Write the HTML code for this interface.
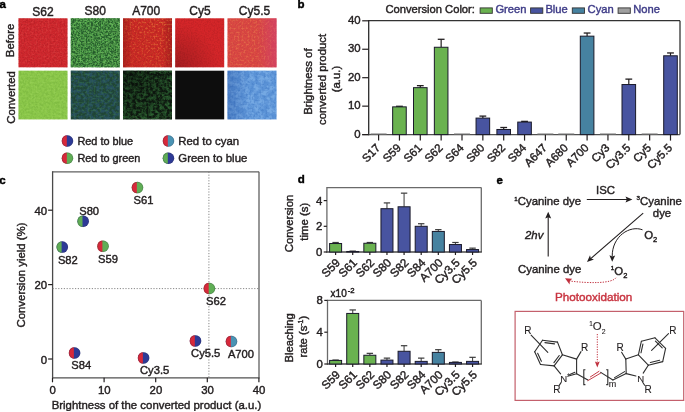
<!DOCTYPE html>
<html><head><meta charset="utf-8"><style>
html,body{margin:0;padding:0;background:#fff;}
body{width:685px;height:412px;overflow:hidden;}
svg{display:block;font-family:"Liberation Sans", sans-serif;filter:blur(0.3px);}
text{stroke:#231f20;stroke-width:0.42px;}
</style></head><body>
<svg width="685" height="412" viewBox="0 0 685 412" fill="#231f20">
<defs><filter id="fa" x="0" y="0" width="1" height="1"><feTurbulence type="fractalNoise" baseFrequency="0.22" numOctaves="4" seed="3"/><feColorMatrix type="matrix" values="0 0 0 0 0  0 0 0 0 0  0 0 0 0 0  3.4 0 0 0 -1.25"/><feGaussianBlur stdDeviation="0.65"/><feComposite in="SourceGraphic" operator="in"/></filter><filter id="fb" x="0" y="0" width="1" height="1"><feTurbulence type="fractalNoise" baseFrequency="0.5" numOctaves="2" seed="11"/><feColorMatrix type="matrix" values="0 0 0 0 0  0 0 0 0 0  0 0 0 0 0  4.0 0 0 0 -1.9"/><feGaussianBlur stdDeviation="0.65"/><feComposite in="SourceGraphic" operator="in"/></filter><filter id="fc" x="0" y="0" width="1" height="1"><feTurbulence type="fractalNoise" baseFrequency="0.45" numOctaves="2" seed="5"/><feColorMatrix type="matrix" values="0 0 0 0 0  0 0 0 0 0  0 0 0 0 0  3.0 0 0 0 -1.1"/><feGaussianBlur stdDeviation="0.65"/><feComposite in="SourceGraphic" operator="in"/></filter><filter id="fd" x="0" y="0" width="1" height="1"><feTurbulence type="fractalNoise" baseFrequency="0.7" numOctaves="2" seed="17"/><feColorMatrix type="matrix" values="0 0 0 0 0  0 0 0 0 0  0 0 0 0 0  3.0 0 0 0 -1.2"/><feGaussianBlur stdDeviation="0.65"/><feComposite in="SourceGraphic" operator="in"/></filter><filter id="fe" x="0" y="0" width="1" height="1"><feTurbulence type="fractalNoise" baseFrequency="0.3" numOctaves="4" seed="23"/><feColorMatrix type="matrix" values="0 0 0 0 0  0 0 0 0 0  0 0 0 0 0  3.2 0 0 0 -1.15"/><feGaussianBlur stdDeviation="0.65"/><feComposite in="SourceGraphic" operator="in"/></filter><filter id="ff" x="0" y="0" width="1" height="1"><feTurbulence type="fractalNoise" baseFrequency="0.6" numOctaves="3" seed="31"/><feColorMatrix type="matrix" values="0 0 0 0 0  0 0 0 0 0  0 0 0 0 0  3.4 0 0 0 -1.2"/><feGaussianBlur stdDeviation="0.65"/><feComposite in="SourceGraphic" operator="in"/></filter><radialGradient id="gBL" cx="0" cy="1" r="0.9"><stop offset="0" stop-color="#000" stop-opacity="0.45"/><stop offset="1" stop-color="#000" stop-opacity="0"/></radialGradient><linearGradient id="gMag" x1="0" y1="0" x2="1" y2="0"><stop offset="0.6" stop-color="#d0407a" stop-opacity="0"/><stop offset="1" stop-color="#d0407a" stop-opacity="0.55"/></linearGradient><radialGradient id="gTL" cx="0" cy="0" r="1.1"><stop offset="0" stop-color="#000" stop-opacity="0.85"/><stop offset="1" stop-color="#000" stop-opacity="0"/></radialGradient><linearGradient id="gEdge" x1="0" y1="0" x2="1" y2="0"><stop offset="0" stop-color="#701010" stop-opacity="0.35"/><stop offset="0.2" stop-color="#701010" stop-opacity="0"/><stop offset="0.8" stop-color="#701010" stop-opacity="0"/><stop offset="1" stop-color="#701010" stop-opacity="0.35"/></linearGradient><linearGradient id="gLft" x1="0" y1="0" x2="1" y2="0"><stop offset="0" stop-color="#1e4a9a" stop-opacity="0.35"/><stop offset="0.45" stop-color="#1e4a9a" stop-opacity="0"/></linearGradient><linearGradient id="gTRm" x1="0" y1="1" x2="1" y2="0"><stop offset="0.1" stop-color="#fff" stop-opacity="0.35"/><stop offset="0.9" stop-color="#fff" stop-opacity="1"/></linearGradient><mask id="mTR" maskContentUnits="objectBoundingBox"><rect x="0" y="0" width="1" height="1" fill="url(#gTRm)"/></mask></defs>
<text x="-0.60" y="8.00" font-size="11.5" font-weight="bold" fill="#000" style="stroke:#000">a</text>
<text x="43.00" y="16.00" font-size="12" text-anchor="middle">S62</text>
<text x="95.30" y="14.50" font-size="12" text-anchor="middle">S80</text>
<text x="146.20" y="14.60" font-size="12" text-anchor="middle">A700</text>
<text x="200.00" y="14.60" font-size="12" text-anchor="middle">Cy5</text>
<text x="254.50" y="14.60" font-size="12" text-anchor="middle">Cy5.5</text>
<rect x="18.50" y="18.30" width="49.00" height="49.00" fill="#d0282e"/>
<rect x="18.5" y="18.3" width="49" height="49" fill="#a81c22" filter="url(#fd)" opacity="0.5"/>
<rect x="18.5" y="18.3" width="49" height="49" fill="#e04a48" filter="url(#fb)" opacity="0.4"/>
<rect x="70.80" y="18.30" width="49.00" height="49.00" fill="#5aae50"/>
<rect x="70.8" y="18.3" width="49" height="49" fill="#1f5026" filter="url(#ff)" opacity="0.85"/>
<rect x="70.8" y="18.3" width="49" height="49" fill="#22542a" filter="url(#fe)" opacity="0.3"/>
<rect x="70.8" y="18.3" width="49" height="49" fill="#80c86c" filter="url(#fb)" opacity="0.45"/>
<rect x="123.00" y="18.30" width="49.00" height="49.00" fill="#cc2a26"/>
<g mask="url(#mTR)"><rect x="123.0" y="18.3" width="49" height="49" fill="#ee7c3c" filter="url(#fb)" opacity="0.75"/></g>
<rect x="123.0" y="18.3" width="49" height="49" fill="#8a1a18" filter="url(#fd)" opacity="0.3"/>
<rect x="123.0" y="18.3" width="49" height="49" fill="url(#gEdge)" opacity="1"/>
<rect x="175.20" y="18.30" width="49.00" height="49.00" fill="#d42629"/>
<rect x="175.2" y="18.3" width="49" height="49" fill="#a01a1e" filter="url(#fd)" opacity="0.3"/>
<rect x="175.2" y="18.3" width="49" height="49" fill="url(#gBL)" opacity="0.5"/>
<rect x="227.50" y="18.30" width="49.00" height="49.00" fill="#da4842"/>
<rect x="227.5" y="18.3" width="49" height="49" fill="#ee8a50" filter="url(#fb)" opacity="0.45"/>
<rect x="227.5" y="18.3" width="49" height="49" fill="#b83040" filter="url(#fd)" opacity="0.3"/>
<rect x="227.5" y="18.3" width="49" height="49" fill="url(#gMag)" opacity="1"/>
<rect x="18.50" y="70.70" width="49.00" height="48.70" fill="#8cc84a"/>
<rect x="18.5" y="70.7" width="49" height="48.7" fill="#6aa836" filter="url(#fc)" opacity="0.35"/>
<rect x="18.5" y="70.7" width="49" height="48.7" fill="#a8dc68" filter="url(#fb)" opacity="0.3"/>
<rect x="70.80" y="70.70" width="49.00" height="48.70" fill="#1f4436"/>
<rect x="70.8" y="70.7" width="49" height="48.7" fill="#2f5a80" filter="url(#fe)" opacity="0.55"/>
<rect x="70.8" y="70.7" width="49" height="48.7" fill="#3c7a46" filter="url(#fb)" opacity="0.45"/>
<rect x="123.00" y="70.70" width="49.00" height="48.70" fill="#0e1810"/>
<rect x="123.0" y="70.7" width="49" height="48.7" fill="#2a6030" filter="url(#fe)" opacity="0.75"/>
<rect x="123.0" y="70.7" width="49" height="48.7" fill="#4a9a48" filter="url(#fb)" opacity="0.3"/>
<rect x="123.0" y="70.7" width="49" height="48.7" fill="url(#gTL)" opacity="0.5"/>
<rect x="175.20" y="70.70" width="49.00" height="48.70" fill="#0d0d0d"/>
<rect x="227.50" y="70.70" width="49.00" height="48.70" fill="#5a92d6"/>
<rect x="227.5" y="70.7" width="49" height="48.7" fill="#8cbcee" filter="url(#fa)" opacity="0.55"/>
<rect x="227.5" y="70.7" width="49" height="48.7" fill="#3a70bc" filter="url(#fb)" opacity="0.35"/>
<rect x="227.5" y="70.7" width="49" height="48.7" fill="url(#gLft)" opacity="1"/>
<text x="14.50" y="40.40" font-size="11.4" text-anchor="middle" transform="rotate(-90 14.50 40.40)">Before</text>
<text x="14.60" y="97.40" font-size="11.4" text-anchor="middle" transform="rotate(-90 14.60 97.40)">Converted</text>
<circle cx="67.50" cy="141.00" r="5.7" fill="#2d3a96"/>
<path d="M66.80,135.34 A5.7,5.7 0 0 0 66.80,146.66 Z" fill="#d8283a"/>
<circle cx="67.50" cy="141.00" r="5.35" fill="none" stroke="#303040" stroke-width="0.7" opacity="0.35"/>
<circle cx="67.50" cy="158.20" r="5.7" fill="#5fae55"/>
<path d="M66.80,152.54 A5.7,5.7 0 0 0 66.80,163.86 Z" fill="#d8283a"/>
<circle cx="67.50" cy="158.20" r="5.35" fill="none" stroke="#303040" stroke-width="0.7" opacity="0.35"/>
<circle cx="168.50" cy="141.00" r="5.7" fill="#4a93b4"/>
<path d="M167.80,135.34 A5.7,5.7 0 0 0 167.80,146.66 Z" fill="#d8283a"/>
<circle cx="168.50" cy="141.00" r="5.35" fill="none" stroke="#303040" stroke-width="0.7" opacity="0.35"/>
<circle cx="168.50" cy="158.20" r="5.7" fill="#2d3a96"/>
<path d="M167.80,152.54 A5.7,5.7 0 0 0 167.80,163.86 Z" fill="#5fae55"/>
<circle cx="168.50" cy="158.20" r="5.35" fill="none" stroke="#303040" stroke-width="0.7" opacity="0.35"/>
<text x="77.40" y="144.80" font-size="10.9">Red to blue</text>
<text x="77.40" y="161.90" font-size="10.9">Red to green</text>
<text x="178.30" y="144.80" font-size="11.4">Red to cyan</text>
<text x="178.30" y="161.90" font-size="11.4">Green to blue</text>
<text x="297.60" y="8.10" font-size="11.5" font-weight="bold" fill="#000" style="stroke:#000">b</text>
<text x="385.40" y="13.00" font-size="11.2">Conversion Color:</text>
<rect x="480.10" y="7.90" width="12.20" height="5.40" fill="#6ab250" stroke="#333" stroke-width="0.9"/>
<text x="495.40" y="13.00" font-size="11.2" fill="#3f3d88" style="stroke:#3f3d88">Green</text>
<rect x="530.60" y="7.90" width="12.20" height="5.40" fill="#4854a0" stroke="#333" stroke-width="0.9"/>
<text x="545.40" y="13.00" font-size="11.2" fill="#3f3d88" style="stroke:#3f3d88">Blue</text>
<rect x="572.30" y="7.90" width="12.20" height="5.40" fill="#4682a0" stroke="#333" stroke-width="0.9"/>
<text x="587.60" y="13.00" font-size="11.2" fill="#3f3d88" style="stroke:#3f3d88">Cyan</text>
<rect x="618.10" y="7.90" width="12.20" height="5.40" fill="#a0a0a0" stroke="#333" stroke-width="0.9"/>
<text x="633.20" y="13.00" font-size="11.2" fill="#3f3d88" style="stroke:#3f3d88">None</text>
<line x1="368.70" y1="20.70" x2="680.00" y2="20.70" stroke="#333" stroke-width="1.3"/>
<line x1="680.00" y1="20.70" x2="680.00" y2="134.60" stroke="#333" stroke-width="1.3"/>
<line x1="368.70" y1="20.10" x2="368.70" y2="135.20" stroke="#2a2a2a" stroke-width="1.3"/>
<line x1="362.20" y1="134.60" x2="680.00" y2="134.60" stroke="#505050" stroke-width="1.4"/>
<line x1="362.20" y1="134.60" x2="368.70" y2="134.60" stroke="#231f20" stroke-width="1.2"/>
<text x="360.60" y="137.80" font-size="11.4" text-anchor="end">0</text>
<line x1="362.20" y1="106.15" x2="368.70" y2="106.15" stroke="#231f20" stroke-width="1.2"/>
<text x="360.60" y="109.35" font-size="11.4" text-anchor="end">10</text>
<line x1="362.20" y1="77.70" x2="368.70" y2="77.70" stroke="#231f20" stroke-width="1.2"/>
<text x="360.60" y="80.90" font-size="11.4" text-anchor="end">20</text>
<line x1="362.20" y1="49.25" x2="368.70" y2="49.25" stroke="#231f20" stroke-width="1.2"/>
<text x="360.60" y="52.45" font-size="11.4" text-anchor="end">30</text>
<line x1="362.20" y1="20.80" x2="368.70" y2="20.80" stroke="#231f20" stroke-width="1.2"/>
<text x="360.60" y="24.00" font-size="11.4" text-anchor="end">40</text>
<text x="312.10" y="81.60" font-size="11.4" text-anchor="middle" transform="rotate(-90 312.10 81.60)">Brightness of</text>
<text x="326.40" y="79.40" font-size="11.4" text-anchor="middle" transform="rotate(-90 326.40 79.40)">converted product</text>
<text x="339.60" y="79.00" font-size="11.4" text-anchor="middle" transform="rotate(-90 339.60 79.00)">(a.u.)</text>
<line x1="378.60" y1="134.60" x2="378.60" y2="140.60" stroke="#231f20" stroke-width="1.2"/>
<line x1="370.60" y1="133.80" x2="386.60" y2="133.80" stroke="#9a9a9a" stroke-width="1.0"/>
<text x="381.00" y="148.60" font-size="11.4" text-anchor="end" transform="rotate(-45 381.00 148.60)">S17</text>
<line x1="399.45" y1="134.60" x2="399.45" y2="140.60" stroke="#231f20" stroke-width="1.2"/>
<line x1="399.45" y1="106.29" x2="399.45" y2="106.86" stroke="#231f20" stroke-width="1.2"/>
<line x1="396.05" y1="106.29" x2="402.85" y2="106.29" stroke="#231f20" stroke-width="1.3"/>
<rect x="392.65" y="106.86" width="13.60" height="27.74" fill="#6ab250" stroke="#1a1a2a" stroke-width="1.0"/>
<text x="401.85" y="148.60" font-size="11.4" text-anchor="end" transform="rotate(-45 401.85 148.60)">S59</text>
<line x1="420.30" y1="134.60" x2="420.30" y2="140.60" stroke="#231f20" stroke-width="1.2"/>
<line x1="420.30" y1="85.67" x2="420.30" y2="87.66" stroke="#231f20" stroke-width="1.2"/>
<line x1="416.90" y1="85.67" x2="423.70" y2="85.67" stroke="#231f20" stroke-width="1.3"/>
<rect x="413.50" y="87.66" width="13.60" height="46.94" fill="#6ab250" stroke="#1a1a2a" stroke-width="1.0"/>
<text x="422.70" y="148.60" font-size="11.4" text-anchor="end" transform="rotate(-45 422.70 148.60)">S61</text>
<line x1="441.15" y1="134.60" x2="441.15" y2="140.60" stroke="#231f20" stroke-width="1.2"/>
<line x1="441.15" y1="39.29" x2="441.15" y2="47.26" stroke="#231f20" stroke-width="1.2"/>
<line x1="437.75" y1="39.29" x2="444.55" y2="39.29" stroke="#231f20" stroke-width="1.3"/>
<rect x="434.35" y="47.26" width="13.60" height="87.34" fill="#6ab250" stroke="#1a1a2a" stroke-width="1.0"/>
<text x="443.55" y="148.60" font-size="11.4" text-anchor="end" transform="rotate(-45 443.55 148.60)">S62</text>
<line x1="462.00" y1="134.60" x2="462.00" y2="140.60" stroke="#231f20" stroke-width="1.2"/>
<line x1="454.00" y1="133.80" x2="470.00" y2="133.80" stroke="#9a9a9a" stroke-width="1.0"/>
<text x="464.40" y="148.60" font-size="11.4" text-anchor="end" transform="rotate(-45 464.40 148.60)">S64</text>
<line x1="482.85" y1="134.60" x2="482.85" y2="140.60" stroke="#231f20" stroke-width="1.2"/>
<line x1="482.85" y1="116.11" x2="482.85" y2="118.10" stroke="#231f20" stroke-width="1.2"/>
<line x1="479.45" y1="116.11" x2="486.25" y2="116.11" stroke="#231f20" stroke-width="1.3"/>
<rect x="476.05" y="118.10" width="13.60" height="16.50" fill="#4854a0" stroke="#1a1a2a" stroke-width="1.0"/>
<text x="485.25" y="148.60" font-size="11.4" text-anchor="end" transform="rotate(-45 485.25 148.60)">S80</text>
<line x1="503.70" y1="134.60" x2="503.70" y2="140.60" stroke="#231f20" stroke-width="1.2"/>
<line x1="503.70" y1="127.49" x2="503.70" y2="129.48" stroke="#231f20" stroke-width="1.2"/>
<line x1="500.30" y1="127.49" x2="507.10" y2="127.49" stroke="#231f20" stroke-width="1.3"/>
<rect x="496.90" y="129.48" width="13.60" height="5.12" fill="#4854a0" stroke="#1a1a2a" stroke-width="1.0"/>
<text x="506.10" y="148.60" font-size="11.4" text-anchor="end" transform="rotate(-45 506.10 148.60)">S82</text>
<line x1="524.55" y1="134.60" x2="524.55" y2="140.60" stroke="#231f20" stroke-width="1.2"/>
<line x1="524.55" y1="121.37" x2="524.55" y2="122.08" stroke="#231f20" stroke-width="1.2"/>
<line x1="521.15" y1="121.37" x2="527.95" y2="121.37" stroke="#231f20" stroke-width="1.3"/>
<rect x="517.75" y="122.08" width="13.60" height="12.52" fill="#4854a0" stroke="#1a1a2a" stroke-width="1.0"/>
<text x="526.95" y="148.60" font-size="11.4" text-anchor="end" transform="rotate(-45 526.95 148.60)">S84</text>
<line x1="545.40" y1="134.60" x2="545.40" y2="140.60" stroke="#231f20" stroke-width="1.2"/>
<line x1="537.40" y1="133.80" x2="553.40" y2="133.80" stroke="#9a9a9a" stroke-width="1.0"/>
<text x="547.80" y="148.60" font-size="11.4" text-anchor="end" transform="rotate(-45 547.80 148.60)">A647</text>
<line x1="566.25" y1="134.60" x2="566.25" y2="140.60" stroke="#231f20" stroke-width="1.2"/>
<line x1="558.25" y1="133.80" x2="574.25" y2="133.80" stroke="#9a9a9a" stroke-width="1.0"/>
<text x="568.65" y="148.60" font-size="11.4" text-anchor="end" transform="rotate(-45 568.65 148.60)">A680</text>
<line x1="587.10" y1="134.60" x2="587.10" y2="140.60" stroke="#231f20" stroke-width="1.2"/>
<line x1="587.10" y1="33.03" x2="587.10" y2="36.16" stroke="#231f20" stroke-width="1.2"/>
<line x1="583.70" y1="33.03" x2="590.50" y2="33.03" stroke="#231f20" stroke-width="1.3"/>
<rect x="580.30" y="36.16" width="13.60" height="98.44" fill="#4682a0" stroke="#1a1a2a" stroke-width="1.0"/>
<text x="589.50" y="148.60" font-size="11.4" text-anchor="end" transform="rotate(-45 589.50 148.60)">A700</text>
<line x1="607.95" y1="134.60" x2="607.95" y2="140.60" stroke="#231f20" stroke-width="1.2"/>
<line x1="599.95" y1="133.80" x2="615.95" y2="133.80" stroke="#9a9a9a" stroke-width="1.0"/>
<text x="610.35" y="148.60" font-size="11.4" text-anchor="end" transform="rotate(-45 610.35 148.60)">Cy3</text>
<line x1="628.80" y1="134.60" x2="628.80" y2="140.60" stroke="#231f20" stroke-width="1.2"/>
<line x1="628.80" y1="79.12" x2="628.80" y2="84.53" stroke="#231f20" stroke-width="1.2"/>
<line x1="625.40" y1="79.12" x2="632.20" y2="79.12" stroke="#231f20" stroke-width="1.3"/>
<rect x="622.00" y="84.53" width="13.60" height="50.07" fill="#4854a0" stroke="#1a1a2a" stroke-width="1.0"/>
<text x="631.20" y="148.60" font-size="11.4" text-anchor="end" transform="rotate(-45 631.20 148.60)">Cy3.5</text>
<line x1="649.65" y1="134.60" x2="649.65" y2="140.60" stroke="#231f20" stroke-width="1.2"/>
<line x1="641.65" y1="133.80" x2="657.65" y2="133.80" stroke="#9a9a9a" stroke-width="1.0"/>
<text x="652.05" y="148.60" font-size="11.4" text-anchor="end" transform="rotate(-45 652.05 148.60)">Cy5</text>
<line x1="670.50" y1="134.60" x2="670.50" y2="140.60" stroke="#231f20" stroke-width="1.2"/>
<line x1="670.50" y1="52.95" x2="670.50" y2="55.79" stroke="#231f20" stroke-width="1.2"/>
<line x1="667.10" y1="52.95" x2="673.90" y2="52.95" stroke="#231f20" stroke-width="1.3"/>
<rect x="663.70" y="55.79" width="13.60" height="78.81" fill="#4854a0" stroke="#1a1a2a" stroke-width="1.0"/>
<text x="672.90" y="148.60" font-size="11.4" text-anchor="end" transform="rotate(-45 672.90 148.60)">Cy5.5</text>
<text x="-0.80" y="183.70" font-size="11.5" font-weight="bold" fill="#000" style="stroke:#000">c</text>
<line x1="52.60" y1="171.80" x2="259.00" y2="171.80" stroke="#606060" stroke-width="1.3"/>
<line x1="259.00" y1="171.80" x2="259.00" y2="377.80" stroke="#606060" stroke-width="1.3"/>
<line x1="52.60" y1="171.20" x2="52.60" y2="378.40" stroke="#4a4a4a" stroke-width="1.3"/>
<line x1="52.00" y1="377.80" x2="259.60" y2="377.80" stroke="#505050" stroke-width="1.3"/>
<line x1="52.60" y1="288.60" x2="259.00" y2="288.60" stroke="#7a7a7a" stroke-width="0.9" stroke-dasharray="1.2 1.6"/>
<line x1="208.90" y1="171.80" x2="208.90" y2="377.80" stroke="#7a7a7a" stroke-width="0.9" stroke-dasharray="1.2 1.6"/>
<line x1="48.10" y1="359.00" x2="52.60" y2="359.00" stroke="#231f20" stroke-width="1.2"/>
<text x="47.20" y="363.60" font-size="11.4" text-anchor="end">0</text>
<line x1="48.10" y1="284.60" x2="52.60" y2="284.60" stroke="#231f20" stroke-width="1.2"/>
<text x="47.20" y="289.20" font-size="11.4" text-anchor="end">20</text>
<line x1="48.10" y1="210.20" x2="52.60" y2="210.20" stroke="#231f20" stroke-width="1.2"/>
<text x="47.20" y="214.80" font-size="11.4" text-anchor="end">40</text>
<line x1="52.50" y1="377.80" x2="52.50" y2="382.30" stroke="#231f20" stroke-width="1.2"/>
<text x="52.70" y="394.30" font-size="11.4" text-anchor="middle">0</text>
<line x1="104.10" y1="377.80" x2="104.10" y2="382.30" stroke="#231f20" stroke-width="1.2"/>
<text x="104.30" y="394.30" font-size="11.4" text-anchor="middle">10</text>
<line x1="155.70" y1="377.80" x2="155.70" y2="382.30" stroke="#231f20" stroke-width="1.2"/>
<text x="155.90" y="394.30" font-size="11.4" text-anchor="middle">20</text>
<line x1="207.30" y1="377.80" x2="207.30" y2="382.30" stroke="#231f20" stroke-width="1.2"/>
<text x="207.50" y="394.30" font-size="11.4" text-anchor="middle">30</text>
<line x1="258.90" y1="377.80" x2="258.90" y2="382.30" stroke="#231f20" stroke-width="1.2"/>
<text x="259.10" y="394.30" font-size="11.4" text-anchor="middle">40</text>
<text x="25.20" y="275.00" font-size="11.4" text-anchor="middle" transform="rotate(-90 25.20 275.00)">Conversion yield (%)</text>
<text x="156.50" y="408.50" font-size="11.4" text-anchor="middle">Brightness of the converted product (a.u.)</text>
<circle cx="137.50" cy="187.60" r="5.75" fill="#5fae55"/>
<path d="M136.80,181.89 A5.75,5.75 0 0 0 136.80,193.31 Z" fill="#d8283a"/>
<circle cx="137.50" cy="187.60" r="5.40" fill="none" stroke="#303040" stroke-width="0.7" opacity="0.35"/>
<text x="133.50" y="204.00" font-size="11.2">S61</text>
<circle cx="83.20" cy="221.30" r="5.75" fill="#2d3a96"/>
<path d="M82.50,215.59 A5.75,5.75 0 0 0 82.50,227.01 Z" fill="#5fae55"/>
<circle cx="83.20" cy="221.30" r="5.40" fill="none" stroke="#303040" stroke-width="0.7" opacity="0.35"/>
<text x="79.20" y="214.50" font-size="11.2">S80</text>
<circle cx="62.30" cy="247.10" r="5.75" fill="#2d3a96"/>
<path d="M61.60,241.39 A5.75,5.75 0 0 0 61.60,252.81 Z" fill="#5fae55"/>
<circle cx="62.30" cy="247.10" r="5.40" fill="none" stroke="#303040" stroke-width="0.7" opacity="0.35"/>
<text x="57.90" y="263.50" font-size="11.2">S82</text>
<circle cx="103.10" cy="246.30" r="5.75" fill="#5fae55"/>
<path d="M102.40,240.59 A5.75,5.75 0 0 0 102.40,252.01 Z" fill="#d8283a"/>
<circle cx="103.10" cy="246.30" r="5.40" fill="none" stroke="#303040" stroke-width="0.7" opacity="0.35"/>
<text x="98.00" y="262.70" font-size="11.2">S59</text>
<circle cx="209.40" cy="288.50" r="5.75" fill="#5fae55"/>
<path d="M208.70,282.79 A5.75,5.75 0 0 0 208.70,294.21 Z" fill="#d8283a"/>
<circle cx="209.40" cy="288.50" r="5.40" fill="none" stroke="#303040" stroke-width="0.7" opacity="0.35"/>
<text x="206.00" y="304.90" font-size="11.2">S62</text>
<circle cx="74.60" cy="353.00" r="5.75" fill="#2d3a96"/>
<path d="M73.90,347.29 A5.75,5.75 0 0 0 73.90,358.71 Z" fill="#d8283a"/>
<circle cx="74.60" cy="353.00" r="5.40" fill="none" stroke="#303040" stroke-width="0.7" opacity="0.35"/>
<text x="71.30" y="369.40" font-size="11.2">S84</text>
<circle cx="143.60" cy="357.90" r="5.75" fill="#2d3a96"/>
<path d="M142.90,352.19 A5.75,5.75 0 0 0 142.90,363.61 Z" fill="#d8283a"/>
<circle cx="143.60" cy="357.90" r="5.40" fill="none" stroke="#303040" stroke-width="0.7" opacity="0.35"/>
<text x="140.00" y="374.30" font-size="11.2">Cy3.5</text>
<circle cx="195.50" cy="340.90" r="5.75" fill="#2d3a96"/>
<path d="M194.80,335.19 A5.75,5.75 0 0 0 194.80,346.61 Z" fill="#d8283a"/>
<circle cx="195.50" cy="340.90" r="5.40" fill="none" stroke="#303040" stroke-width="0.7" opacity="0.35"/>
<text x="191.10" y="357.30" font-size="11.2">Cy5.5</text>
<circle cx="231.50" cy="341.50" r="5.75" fill="#4a93b4"/>
<path d="M230.80,335.79 A5.75,5.75 0 0 0 230.80,347.21 Z" fill="#d8283a"/>
<circle cx="231.50" cy="341.50" r="5.40" fill="none" stroke="#303040" stroke-width="0.7" opacity="0.35"/>
<text x="227.90" y="357.90" font-size="11.2">A700</text>
<text x="297.80" y="182.90" font-size="11.5" font-weight="bold" fill="#000" style="stroke:#000">d</text>
<line x1="326.90" y1="187.60" x2="481.30" y2="187.60" stroke="#6a6a6a" stroke-width="1.3"/>
<line x1="481.30" y1="187.60" x2="481.30" y2="252.00" stroke="#6a6a6a" stroke-width="1.3"/>
<line x1="326.90" y1="187.00" x2="326.90" y2="252.60" stroke="#6a6a6a" stroke-width="1.3"/>
<line x1="326.30" y1="252.00" x2="481.90" y2="252.00" stroke="#4a4a4a" stroke-width="1.3"/>
<line x1="323.70" y1="252.00" x2="326.90" y2="252.00" stroke="#231f20" stroke-width="1.2"/>
<text x="322.30" y="255.90" font-size="11.4" text-anchor="end">0</text>
<line x1="323.70" y1="226.30" x2="326.90" y2="226.30" stroke="#231f20" stroke-width="1.2"/>
<text x="322.30" y="230.20" font-size="11.4" text-anchor="end">2</text>
<line x1="323.70" y1="200.60" x2="326.90" y2="200.60" stroke="#231f20" stroke-width="1.2"/>
<text x="322.30" y="204.50" font-size="11.4" text-anchor="end">4</text>
<line x1="335.60" y1="252.00" x2="335.60" y2="255.00" stroke="#231f20" stroke-width="1.2"/>
<line x1="335.60" y1="242.49" x2="335.60" y2="243.52" stroke="#4a4a4a" stroke-width="1.1"/>
<line x1="332.40" y1="242.49" x2="338.80" y2="242.49" stroke="#3a3a3a" stroke-width="1.2"/>
<rect x="329.60" y="243.52" width="12.00" height="8.48" fill="#6ab250" stroke="#1a1a2a" stroke-width="1.0"/>
<text x="340.80" y="263.40" font-size="11.6" text-anchor="end" transform="rotate(-45 340.80 263.40)">S59</text>
<line x1="352.72" y1="252.00" x2="352.72" y2="255.00" stroke="#231f20" stroke-width="1.2"/>
<line x1="352.72" y1="251.10" x2="352.72" y2="251.49" stroke="#4a4a4a" stroke-width="1.1"/>
<line x1="349.52" y1="251.10" x2="355.92" y2="251.10" stroke="#3a3a3a" stroke-width="1.2"/>
<rect x="346.72" y="251.49" width="12.00" height="0.51" fill="#6ab250" stroke="#1a1a2a" stroke-width="1.0"/>
<text x="357.92" y="263.40" font-size="11.6" text-anchor="end" transform="rotate(-45 357.92 263.40)">S61</text>
<line x1="369.84" y1="252.00" x2="369.84" y2="255.00" stroke="#231f20" stroke-width="1.2"/>
<line x1="369.84" y1="242.49" x2="369.84" y2="243.26" stroke="#4a4a4a" stroke-width="1.1"/>
<line x1="366.64" y1="242.49" x2="373.04" y2="242.49" stroke="#3a3a3a" stroke-width="1.2"/>
<rect x="363.84" y="243.26" width="12.00" height="8.74" fill="#6ab250" stroke="#1a1a2a" stroke-width="1.0"/>
<text x="375.04" y="263.40" font-size="11.6" text-anchor="end" transform="rotate(-45 375.04 263.40)">S62</text>
<line x1="386.96" y1="252.00" x2="386.96" y2="255.00" stroke="#231f20" stroke-width="1.2"/>
<line x1="386.96" y1="202.91" x2="386.96" y2="208.70" stroke="#4a4a4a" stroke-width="1.1"/>
<line x1="383.76" y1="202.91" x2="390.16" y2="202.91" stroke="#3a3a3a" stroke-width="1.2"/>
<rect x="380.96" y="208.70" width="12.00" height="43.30" fill="#4854a0" stroke="#1a1a2a" stroke-width="1.0"/>
<text x="392.16" y="263.40" font-size="11.6" text-anchor="end" transform="rotate(-45 392.16 263.40)">S80</text>
<line x1="404.08" y1="252.00" x2="404.08" y2="255.00" stroke="#231f20" stroke-width="1.2"/>
<line x1="404.08" y1="193.15" x2="404.08" y2="206.77" stroke="#4a4a4a" stroke-width="1.1"/>
<line x1="400.88" y1="193.15" x2="407.28" y2="193.15" stroke="#3a3a3a" stroke-width="1.2"/>
<rect x="398.08" y="206.77" width="12.00" height="45.23" fill="#4854a0" stroke="#1a1a2a" stroke-width="1.0"/>
<text x="409.28" y="263.40" font-size="11.6" text-anchor="end" transform="rotate(-45 409.28 263.40)">S82</text>
<line x1="421.20" y1="252.00" x2="421.20" y2="255.00" stroke="#231f20" stroke-width="1.2"/>
<line x1="421.20" y1="223.73" x2="421.20" y2="226.30" stroke="#4a4a4a" stroke-width="1.1"/>
<line x1="418.00" y1="223.73" x2="424.40" y2="223.73" stroke="#3a3a3a" stroke-width="1.2"/>
<rect x="415.20" y="226.30" width="12.00" height="25.70" fill="#4854a0" stroke="#1a1a2a" stroke-width="1.0"/>
<text x="426.40" y="263.40" font-size="11.6" text-anchor="end" transform="rotate(-45 426.40 263.40)">S84</text>
<line x1="438.32" y1="252.00" x2="438.32" y2="255.00" stroke="#231f20" stroke-width="1.2"/>
<line x1="438.32" y1="229.64" x2="438.32" y2="231.44" stroke="#4a4a4a" stroke-width="1.1"/>
<line x1="435.12" y1="229.64" x2="441.52" y2="229.64" stroke="#3a3a3a" stroke-width="1.2"/>
<rect x="432.32" y="231.44" width="12.00" height="20.56" fill="#4682a0" stroke="#1a1a2a" stroke-width="1.0"/>
<text x="443.52" y="263.40" font-size="11.6" text-anchor="end" transform="rotate(-45 443.52 263.40)">A700</text>
<line x1="455.44" y1="252.00" x2="455.44" y2="255.00" stroke="#231f20" stroke-width="1.2"/>
<line x1="455.44" y1="242.49" x2="455.44" y2="244.55" stroke="#4a4a4a" stroke-width="1.1"/>
<line x1="452.24" y1="242.49" x2="458.64" y2="242.49" stroke="#3a3a3a" stroke-width="1.2"/>
<rect x="449.44" y="244.55" width="12.00" height="7.45" fill="#4854a0" stroke="#1a1a2a" stroke-width="1.0"/>
<text x="460.64" y="263.40" font-size="11.6" text-anchor="end" transform="rotate(-45 460.64 263.40)">Cy3.5</text>
<line x1="472.56" y1="252.00" x2="472.56" y2="255.00" stroke="#231f20" stroke-width="1.2"/>
<line x1="472.56" y1="248.15" x2="472.56" y2="249.56" stroke="#4a4a4a" stroke-width="1.1"/>
<line x1="469.36" y1="248.15" x2="475.76" y2="248.15" stroke="#3a3a3a" stroke-width="1.2"/>
<rect x="466.56" y="249.56" width="12.00" height="2.44" fill="#4854a0" stroke="#1a1a2a" stroke-width="1.0"/>
<text x="477.76" y="263.40" font-size="11.6" text-anchor="end" transform="rotate(-45 477.76 263.40)">Cy5.5</text>
<text x="292.80" y="223.50" font-size="11.4" text-anchor="middle" transform="rotate(-90 292.80 223.50)">Conversion</text>
<text x="308.00" y="221.80" font-size="11.4" text-anchor="middle" transform="rotate(-90 308.00 221.80)">time (s)</text>
<line x1="327.50" y1="300.40" x2="481.30" y2="300.40" stroke="#6a6a6a" stroke-width="1.3"/>
<line x1="481.30" y1="300.40" x2="481.30" y2="364.00" stroke="#6a6a6a" stroke-width="1.3"/>
<line x1="327.50" y1="299.80" x2="327.50" y2="364.60" stroke="#6a6a6a" stroke-width="1.3"/>
<line x1="326.90" y1="364.00" x2="481.90" y2="364.00" stroke="#4a4a4a" stroke-width="1.3"/>
<line x1="324.30" y1="364.00" x2="327.50" y2="364.00" stroke="#231f20" stroke-width="1.2"/>
<text x="322.90" y="367.90" font-size="11.4" text-anchor="end">0</text>
<line x1="324.30" y1="332.20" x2="327.50" y2="332.20" stroke="#231f20" stroke-width="1.2"/>
<text x="322.90" y="336.10" font-size="11.4" text-anchor="end">4</text>
<line x1="324.30" y1="300.40" x2="327.50" y2="300.40" stroke="#231f20" stroke-width="1.2"/>
<text x="322.90" y="304.30" font-size="11.4" text-anchor="end">8</text>
<line x1="335.60" y1="364.00" x2="335.60" y2="367.00" stroke="#231f20" stroke-width="1.2"/>
<line x1="335.60" y1="360.02" x2="335.60" y2="360.42" stroke="#4a4a4a" stroke-width="1.1"/>
<line x1="332.40" y1="360.02" x2="338.80" y2="360.02" stroke="#3a3a3a" stroke-width="1.2"/>
<rect x="329.60" y="360.42" width="12.00" height="3.58" fill="#6ab250" stroke="#1a1a2a" stroke-width="1.0"/>
<text x="340.80" y="375.40" font-size="11.6" text-anchor="end" transform="rotate(-45 340.80 375.40)">S59</text>
<line x1="352.72" y1="364.00" x2="352.72" y2="367.00" stroke="#231f20" stroke-width="1.2"/>
<line x1="352.72" y1="309.94" x2="352.72" y2="313.44" stroke="#4a4a4a" stroke-width="1.1"/>
<line x1="349.52" y1="309.94" x2="355.92" y2="309.94" stroke="#3a3a3a" stroke-width="1.2"/>
<rect x="346.72" y="313.44" width="12.00" height="50.56" fill="#6ab250" stroke="#1a1a2a" stroke-width="1.0"/>
<text x="357.92" y="375.40" font-size="11.6" text-anchor="end" transform="rotate(-45 357.92 375.40)">S61</text>
<line x1="369.84" y1="364.00" x2="369.84" y2="367.00" stroke="#231f20" stroke-width="1.2"/>
<line x1="369.84" y1="353.35" x2="369.84" y2="355.25" stroke="#4a4a4a" stroke-width="1.1"/>
<line x1="366.64" y1="353.35" x2="373.04" y2="353.35" stroke="#3a3a3a" stroke-width="1.2"/>
<rect x="363.84" y="355.25" width="12.00" height="8.75" fill="#6ab250" stroke="#1a1a2a" stroke-width="1.0"/>
<text x="375.04" y="375.40" font-size="11.6" text-anchor="end" transform="rotate(-45 375.04 375.40)">S62</text>
<line x1="386.96" y1="364.00" x2="386.96" y2="367.00" stroke="#231f20" stroke-width="1.2"/>
<line x1="386.96" y1="358.12" x2="386.96" y2="360.10" stroke="#4a4a4a" stroke-width="1.1"/>
<line x1="383.76" y1="358.12" x2="390.16" y2="358.12" stroke="#3a3a3a" stroke-width="1.2"/>
<rect x="380.96" y="360.10" width="12.00" height="3.90" fill="#4854a0" stroke="#1a1a2a" stroke-width="1.0"/>
<text x="392.16" y="375.40" font-size="11.6" text-anchor="end" transform="rotate(-45 392.16 375.40)">S80</text>
<line x1="404.08" y1="364.00" x2="404.08" y2="367.00" stroke="#231f20" stroke-width="1.2"/>
<line x1="404.08" y1="345.71" x2="404.08" y2="351.28" stroke="#4a4a4a" stroke-width="1.1"/>
<line x1="400.88" y1="345.71" x2="407.28" y2="345.71" stroke="#3a3a3a" stroke-width="1.2"/>
<rect x="398.08" y="351.28" width="12.00" height="12.72" fill="#4854a0" stroke="#1a1a2a" stroke-width="1.0"/>
<text x="409.28" y="375.40" font-size="11.6" text-anchor="end" transform="rotate(-45 409.28 375.40)">S82</text>
<line x1="421.20" y1="364.00" x2="421.20" y2="367.00" stroke="#231f20" stroke-width="1.2"/>
<line x1="421.20" y1="358.12" x2="421.20" y2="361.38" stroke="#4a4a4a" stroke-width="1.1"/>
<line x1="418.00" y1="358.12" x2="424.40" y2="358.12" stroke="#3a3a3a" stroke-width="1.2"/>
<rect x="415.20" y="361.38" width="12.00" height="2.62" fill="#4854a0" stroke="#1a1a2a" stroke-width="1.0"/>
<text x="426.40" y="375.40" font-size="11.6" text-anchor="end" transform="rotate(-45 426.40 375.40)">S84</text>
<line x1="438.32" y1="364.00" x2="438.32" y2="367.00" stroke="#231f20" stroke-width="1.2"/>
<line x1="438.32" y1="349.69" x2="438.32" y2="352.39" stroke="#4a4a4a" stroke-width="1.1"/>
<line x1="435.12" y1="349.69" x2="441.52" y2="349.69" stroke="#3a3a3a" stroke-width="1.2"/>
<rect x="432.32" y="352.39" width="12.00" height="11.61" fill="#4682a0" stroke="#1a1a2a" stroke-width="1.0"/>
<text x="443.52" y="375.40" font-size="11.6" text-anchor="end" transform="rotate(-45 443.52 375.40)">A700</text>
<line x1="455.44" y1="364.00" x2="455.44" y2="367.00" stroke="#231f20" stroke-width="1.2"/>
<line x1="455.44" y1="362.01" x2="455.44" y2="362.41" stroke="#4a4a4a" stroke-width="1.1"/>
<line x1="452.24" y1="362.01" x2="458.64" y2="362.01" stroke="#3a3a3a" stroke-width="1.2"/>
<rect x="449.44" y="362.41" width="12.00" height="1.59" fill="#4854a0" stroke="#1a1a2a" stroke-width="1.0"/>
<text x="460.64" y="375.40" font-size="11.6" text-anchor="end" transform="rotate(-45 460.64 375.40)">Cy3.5</text>
<line x1="472.56" y1="364.00" x2="472.56" y2="367.00" stroke="#231f20" stroke-width="1.2"/>
<line x1="472.56" y1="357.32" x2="472.56" y2="361.38" stroke="#4a4a4a" stroke-width="1.1"/>
<line x1="469.36" y1="357.32" x2="475.76" y2="357.32" stroke="#3a3a3a" stroke-width="1.2"/>
<rect x="466.56" y="361.38" width="12.00" height="2.62" fill="#4854a0" stroke="#1a1a2a" stroke-width="1.0"/>
<text x="477.76" y="375.40" font-size="11.6" text-anchor="end" transform="rotate(-45 477.76 375.40)">Cy5.5</text>
<text x="293.30" y="337.80" font-size="11.2" text-anchor="middle" transform="rotate(-90 293.30 337.80)">Bleaching</text>
<text x="307.20" y="336.60" font-size="11.2" text-anchor="middle" transform="rotate(-90 307.20 336.60)">rate (s<tspan dy="-4" font-size="7">-1</tspan><tspan dy="4">)</tspan></text>
<text x="330.60" y="296.90" font-size="10.0">x10<tspan dx="0.9" dy="-3.6" font-size="7.8">-2</tspan></text>
<text x="496.60" y="183.60" font-size="11.5" font-weight="bold" fill="#000" style="stroke:#000">e</text>
<text x="514.30" y="204.80" font-size="11.4"><tspan font-size="6.2" dy="-4.3">1</tspan><tspan dy="4.3">Cyanine dye</tspan></text>
<text x="596.00" y="193.90" font-size="11.4">ISC</text>
<line x1="586.80" y1="199.50" x2="628.50" y2="199.50" stroke="#231f20" stroke-width="1.1"/>
<path d="M632.4,199.5 L625.5,196.5 L626.8,199.5 L625.5,202.5 Z" fill="#231f20"/>
<text x="636.60" y="204.60" font-size="11.4"><tspan font-size="6.2" dy="-4.3">3</tspan><tspan dy="4.3">Cyanine</tspan></text>
<text x="662.00" y="217.30" font-size="11.4" text-anchor="middle">dye</text>
<line x1="548.20" y1="256.50" x2="548.20" y2="216.00" stroke="#231f20" stroke-width="1.1"/>
<path d="M548.2,211.8 L545.2,218.6 L548.2,217.3 L551.2,218.6 Z" fill="#231f20"/>
<text x="525.00" y="238.80" font-size="11.4" font-style="italic">2hv</text>
<line x1="643.20" y1="213.10" x2="590.50" y2="258.80" stroke="#231f20" stroke-width="1.1"/>
<path d="M587.0,261.9 L590.0,255.2 L590.9,258.4 L594.0,259.6 Z" fill="#231f20"/>
<path d="M642.5,229.8 C630,225 612,236 612.2,256.5" fill="none" stroke="#231f20" stroke-width="1"/>
<path d="M612.2,261.8 L609.4,255.2 L612.3,256.4 L615.2,255.4 Z" fill="#231f20"/>
<text x="644.20" y="238.60" font-size="11.4">O<tspan font-size="7.5" dy="3">2</tspan></text>
<text x="518.00" y="272.70" font-size="11.4">Cyanine dye</text>
<text x="610.80" y="274.60" font-size="11.4"><tspan font-size="6.2" dy="-4.3">1</tspan><tspan dy="4.3">O</tspan><tspan font-size="7.5" dy="3">2</tspan></text>
<path d="M615.9,277.8 C612,283.5 590,283.5 569.5,281.0" fill="none" stroke="#c0303e" stroke-width="1" stroke-dasharray="1.3 1.3"/>
<path d="M565.0,278.2 L572.2,278.8 L569.8,281.2 L569.6,284.6 Z" fill="#c0303e"/>
<text x="555.00" y="300.80" font-size="11.7" fill="#c83440" style="stroke:#c83440">Photooxidation</text>
<rect x="515.10" y="311.40" width="168.60" height="89.00" fill="none" stroke="#c4606c" stroke-width="1.2"/>
<line x1="542.50" y1="340.20" x2="557.50" y2="342.10" stroke="#2e2e2e" stroke-width="1.1" stroke-linecap="round"/>
<line x1="557.50" y1="342.10" x2="562.40" y2="354.80" stroke="#2e2e2e" stroke-width="1.1" stroke-linecap="round"/>
<line x1="562.40" y1="354.80" x2="554.10" y2="365.90" stroke="#2e2e2e" stroke-width="1.1" stroke-linecap="round"/>
<line x1="554.10" y1="365.90" x2="540.50" y2="364.50" stroke="#2e2e2e" stroke-width="1.1" stroke-linecap="round"/>
<line x1="540.50" y1="364.50" x2="534.70" y2="351.80" stroke="#2e2e2e" stroke-width="1.1" stroke-linecap="round"/>
<line x1="534.70" y1="351.80" x2="542.50" y2="340.20" stroke="#2e2e2e" stroke-width="1.1" stroke-linecap="round"/>
<line x1="544.94" y1="342.63" x2="554.54" y2="343.84" stroke="#2e2e2e" stroke-width="1.1" stroke-linecap="round"/>
<line x1="559.22" y1="355.54" x2="553.91" y2="362.64" stroke="#2e2e2e" stroke-width="1.1" stroke-linecap="round"/>
<line x1="541.37" y1="361.34" x2="537.65" y2="353.21" stroke="#2e2e2e" stroke-width="1.1" stroke-linecap="round"/>
<text x="527.80" y="334.40" font-size="10.0" text-anchor="middle" style="stroke-width:0.12px">R</text>
<line x1="531.10" y1="335.20" x2="547.80" y2="352.30" stroke="#2e2e2e" stroke-width="1.1" stroke-linecap="round"/>
<line x1="562.40" y1="354.80" x2="576.60" y2="359.10" stroke="#2e2e2e" stroke-width="1.1" stroke-linecap="round"/>
<line x1="576.60" y1="359.10" x2="576.60" y2="373.70" stroke="#2e2e2e" stroke-width="1.1" stroke-linecap="round"/>
<line x1="576.60" y1="359.10" x2="581.00" y2="351.60" stroke="#2e2e2e" stroke-width="1.1" stroke-linecap="round"/>
<text x="584.70" y="351.20" font-size="10.0" text-anchor="middle" style="stroke-width:0.12px">R</text>
<line x1="554.10" y1="365.90" x2="560.60" y2="373.80" stroke="#2e2e2e" stroke-width="1.1" stroke-linecap="round"/>
<text x="563.80" y="381.60" font-size="9.6" text-anchor="middle" style="stroke-width:0.12px">N</text>
<text x="568.60" y="375.60" font-size="6.0" text-anchor="middle" style="stroke-width:0.12px">+</text>
<line x1="567.60" y1="376.20" x2="576.60" y2="373.70" stroke="#2e2e2e" stroke-width="1.1" stroke-linecap="round"/>
<line x1="569.80" y1="374.60" x2="574.90" y2="372.20" stroke="#2e2e2e" stroke-width="1.1" stroke-linecap="round"/>
<line x1="561.20" y1="382.40" x2="559.20" y2="385.40" stroke="#2e2e2e" stroke-width="1.1" stroke-linecap="round"/>
<text x="556.90" y="393.30" font-size="10.0" text-anchor="middle" style="stroke-width:0.12px">R</text>
<line x1="576.60" y1="373.70" x2="587.90" y2="380.00" stroke="#2e2e2e" stroke-width="1.1" stroke-linecap="round"/>
<line x1="587.90" y1="380.60" x2="601.00" y2="372.90" stroke="#c0303e" stroke-width="0.95" stroke-linecap="round"/>
<line x1="590.40" y1="376.90" x2="599.00" y2="371.30" stroke="#c0303e" stroke-width="0.95" stroke-linecap="round"/>
<line x1="600.70" y1="372.40" x2="612.90" y2="380.00" stroke="#2e2e2e" stroke-width="1.1" stroke-linecap="round"/>
<line x1="612.90" y1="380.00" x2="626.20" y2="373.60" stroke="#2e2e2e" stroke-width="1.1" stroke-linecap="round"/>
<line x1="614.60" y1="377.60" x2="624.60" y2="371.60" stroke="#2e2e2e" stroke-width="1.1" stroke-linecap="round"/>
<path d="M585.4,369.8 L583.8,369.8 L583.8,384.6 L585.4,384.6" fill="none" stroke="#2e2e2e" stroke-width="1.1"/>
<path d="M606.2,369.8 L607.8,369.8 L607.8,384.6 L606.2,384.6" fill="none" stroke="#2e2e2e" stroke-width="1.1"/>
<text x="612.40" y="387.40" font-size="9.0" text-anchor="middle" style="stroke-width:0.12px">m</text>
<line x1="638.40" y1="354.80" x2="641.40" y2="341.20" stroke="#2e2e2e" stroke-width="1.1" stroke-linecap="round"/>
<line x1="641.40" y1="341.20" x2="655.00" y2="337.80" stroke="#2e2e2e" stroke-width="1.1" stroke-linecap="round"/>
<line x1="655.00" y1="337.80" x2="665.60" y2="348.40" stroke="#2e2e2e" stroke-width="1.1" stroke-linecap="round"/>
<line x1="665.60" y1="348.40" x2="662.70" y2="361.60" stroke="#2e2e2e" stroke-width="1.1" stroke-linecap="round"/>
<line x1="662.70" y1="361.60" x2="648.30" y2="365.20" stroke="#2e2e2e" stroke-width="1.1" stroke-linecap="round"/>
<line x1="648.30" y1="365.20" x2="638.40" y2="354.80" stroke="#2e2e2e" stroke-width="1.1" stroke-linecap="round"/>
<line x1="640.99" y1="352.80" x2="642.91" y2="344.10" stroke="#2e2e2e" stroke-width="1.1" stroke-linecap="round"/>
<line x1="655.42" y1="341.19" x2="662.21" y2="347.98" stroke="#2e2e2e" stroke-width="1.1" stroke-linecap="round"/>
<line x1="659.60" y1="360.21" x2="650.38" y2="362.51" stroke="#2e2e2e" stroke-width="1.1" stroke-linecap="round"/>
<text x="672.80" y="333.50" font-size="10.0" text-anchor="middle" style="stroke-width:0.12px">R</text>
<line x1="668.50" y1="333.60" x2="651.60" y2="350.40" stroke="#2e2e2e" stroke-width="1.1" stroke-linecap="round"/>
<line x1="638.40" y1="354.80" x2="625.80" y2="359.10" stroke="#2e2e2e" stroke-width="1.1" stroke-linecap="round"/>
<line x1="625.80" y1="359.10" x2="626.20" y2="373.60" stroke="#2e2e2e" stroke-width="1.1" stroke-linecap="round"/>
<line x1="625.80" y1="359.10" x2="621.60" y2="352.30" stroke="#2e2e2e" stroke-width="1.1" stroke-linecap="round"/>
<text x="620.00" y="350.60" font-size="10.0" text-anchor="middle" style="stroke-width:0.12px">R</text>
<line x1="626.20" y1="373.60" x2="635.90" y2="376.00" stroke="#2e2e2e" stroke-width="1.1" stroke-linecap="round"/>
<text x="640.70" y="381.60" font-size="9.6" text-anchor="middle" style="stroke-width:0.12px">N</text>
<line x1="648.30" y1="365.20" x2="643.20" y2="373.10" stroke="#2e2e2e" stroke-width="1.1" stroke-linecap="round"/>
<line x1="642.70" y1="382.30" x2="644.60" y2="385.20" stroke="#2e2e2e" stroke-width="1.1" stroke-linecap="round"/>
<text x="648.00" y="393.20" font-size="10.0" text-anchor="middle" style="stroke-width:0.12px">R</text>
<text x="589.30" y="330.10" font-size="11.4" style="stroke-width:0.12px"><tspan font-size="6.4" dy="-4.3">1</tspan><tspan dy="4.3">O</tspan><tspan font-size="6.9" dy="3.9">2</tspan></text>
<line x1="597.30" y1="334.00" x2="597.30" y2="362.00" stroke="#c0303e" stroke-width="1.0" stroke-dasharray="1.2 1.3" stroke-linecap="butt"/>
<path d="M597.3,367.4 L594.9,361.6 L597.3,362.6 L599.7,361.6 Z" fill="#c0303e"/>
</svg>
</body></html>
